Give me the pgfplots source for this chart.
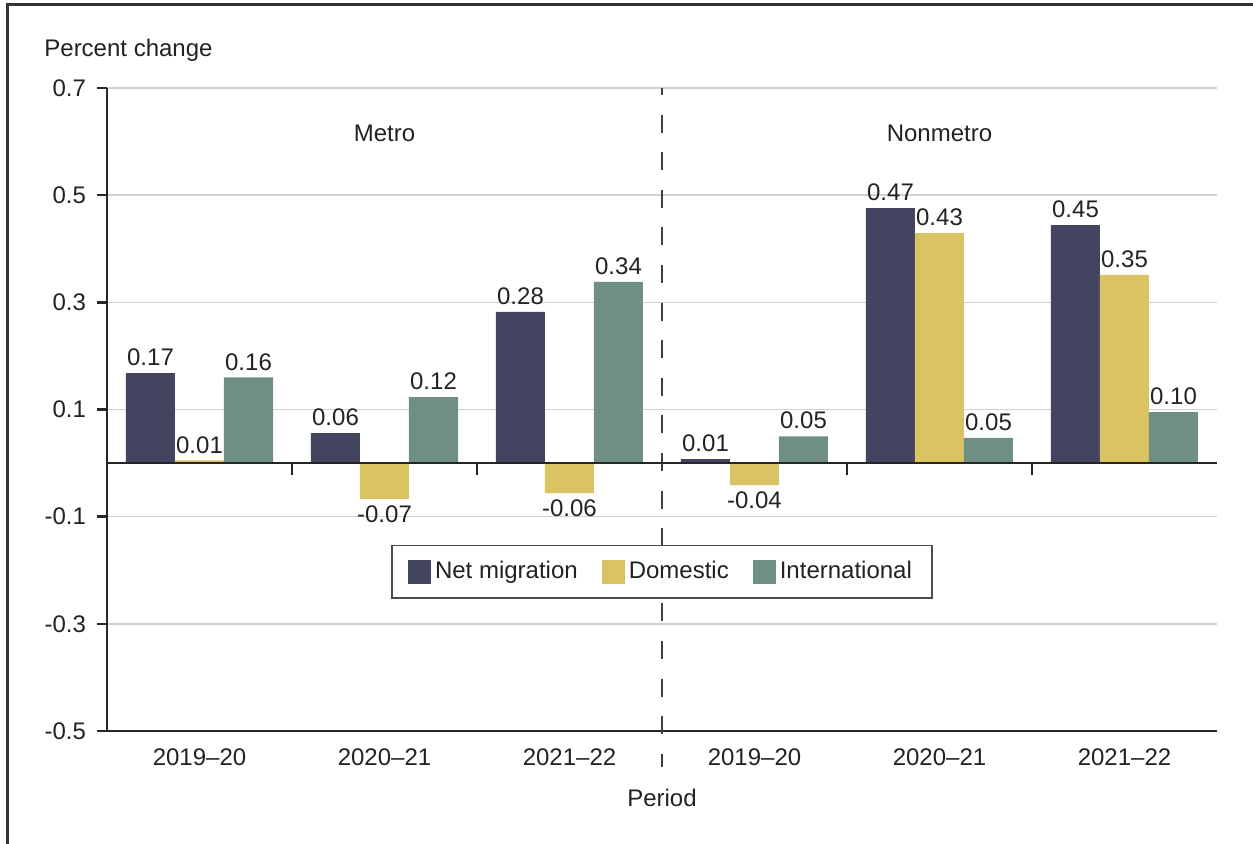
\documentclass[border=0pt]{standalone}
\usepackage{pgfplots}
\pgfplotsset{compat=1.18}
\usepackage{fontspec}
\setmainfont{Liberation Sans}
\definecolor{cnet}{HTML}{434460}
\definecolor{cdom}{HTML}{D9C362}
\definecolor{cint}{HTML}{6F8F83}
\definecolor{txt}{HTML}{222222}
\begin{document}
\begin{tikzpicture}[font=\fontsize{12}{14}\selectfont, text=txt]
\useasboundingbox (0,0) rectangle (626.5pt,422pt);
\draw[line width=1.5pt, color=black!80] (3.5pt,0) -- (3.5pt,419.8pt) -- (626.5pt,419.8pt);
\begin{axis}[
  at={(53.5pt,56.5pt)}, anchor=south west,
  scale only axis, width=555pt, height=321.5pt,
  xmin=-0.5, xmax=5.5, ymin=-0.5, ymax=0.7,
  axis x line=bottom, axis y line=left,
  axis line style={line width=1.2pt, black!85, -},
  ybar=0pt, bar width=24.5pt,
  xtick={0,1,2,3,4,5},
  xticklabels={2019–20,2020–21,2021–22,2019–20,2020–21,2021–22},
  x tick style={draw=none},
  xticklabel style={yshift=-0.5pt},
  ytick={-0.5,-0.3,-0.1,0.1,0.3,0.5,0.7},
  yticklabels={-0.5,-0.3,-0.1,0.1,0.3,0.5,0.7},
  yticklabel style={xshift=-2pt},
  y tick style={line width=1.2pt, black!85},
  tick align=outside, major tick length=5pt,
  ymajorgrids, grid style={line width=0.8pt, color=black!18},
  clip=false,
  point meta=explicit symbolic,
  nodes near coords,
  visualization depends on={rawy \as \ry},
  every node near coord/.append style={font=\fontsize{12}{14}\selectfont, text=txt},
  every node near coord/.append code={\ifdim\ry pt<0pt\pgfkeysalso{anchor=north}\else\pgfkeysalso{anchor=south}\fi},
  legend columns=3,
  legend style={at={(axis cs:2.5,-0.2024)}, anchor=center, draw=black!70, line width=0.8pt, fill=white,
    inner xsep=8pt, inner ysep=6pt, font=\fontsize{12}{14}\selectfont,
    /tikz/every even column/.append style={column sep=10pt}},
  legend image code/.code={\fill[#1,draw=none] (0pt,-6pt) rectangle (11.5pt,6pt);},
]
\draw[black!75, line width=0.7pt, dash pattern=on 9pt off 9.8pt, dash phase=5.5pt]
  (axis cs:2.5,0.7) -- (axis cs:2.5,-0.567);
\addplot[fill=cnet, draw=none] coordinates {
  (0,0.168)[0.17] (1,0.056)[0.06] (2,0.282)[0.28]
  (3,0.0075)[0.01] (4,0.476)[0.47] (5,0.444)[0.45]};
\addplot[fill=cdom, draw=none] coordinates {
  (0,0.005)[0.01] (1,-0.067)[-0.07] (2,-0.056)[-0.06]
  (3,-0.041)[-0.04] (4,0.429)[0.43] (5,0.351)[0.35]};
\addplot[fill=cint, draw=none] coordinates {
  (0,0.160)[0.16] (1,0.123)[0.12] (2,0.338)[0.34]
  (3,0.050)[0.05] (4,0.047)[0.05] (5,0.095)[0.10]};
\legend{Net migration, Domestic, International}
\draw[line width=1.2pt, black!85] (axis cs:-0.5,0) -- (axis cs:5.5,0);
\pgfplotsinvokeforeach{0.5,1.5,3.5,4.5}{
  \draw[line width=1.2pt, black!85] (axis cs:#1,0) -- ([yshift=-6pt]axis cs:#1,0);
}
\node at (axis cs:1,0.616) {Metro};
\node at (axis cs:4,0.616) {Nonmetro};
\node[anchor=west, inner sep=0pt] at ([xshift=-31.5pt,yshift=19pt]rel axis cs:0,1) {Percent change};
\node at ([yshift=-33.5pt]axis cs:2.5,-0.5) {Period};
\end{axis}
\end{tikzpicture}
\end{document}
